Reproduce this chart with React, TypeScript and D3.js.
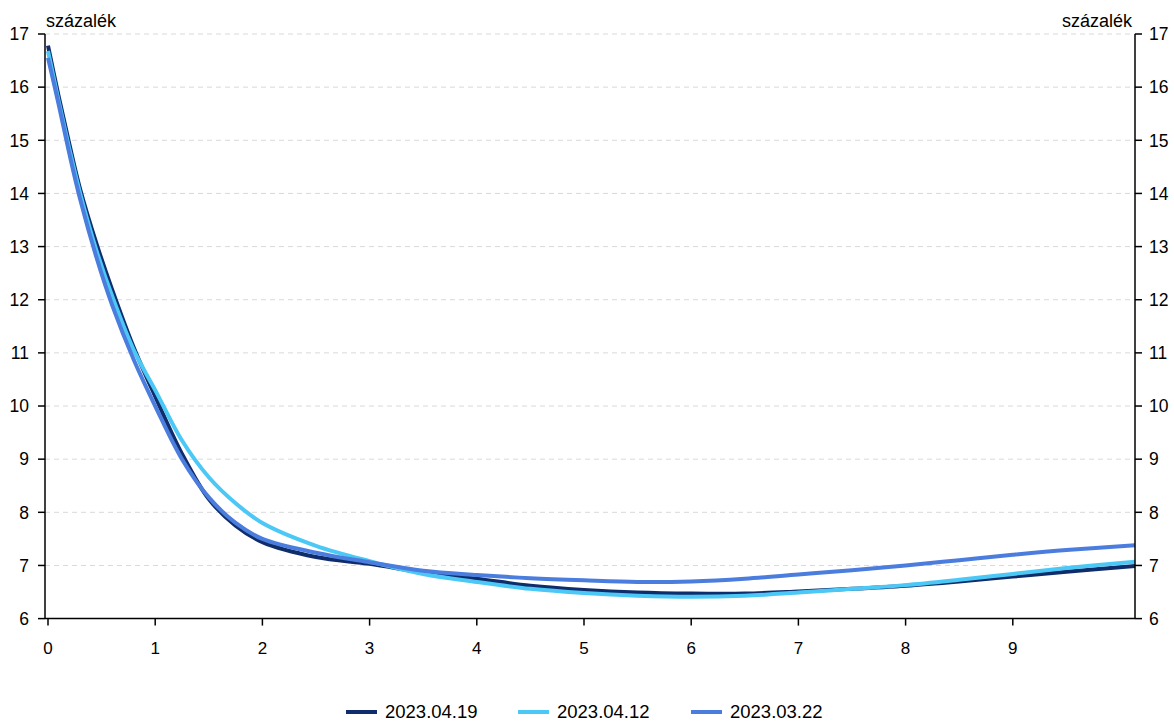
import React from "react";
import * as d3 from "d3";

const maturities = [0, 0.1, 0.2, 0.3, 0.45, 0.6, 0.8, 1, 1.25, 1.5, 1.75, 2, 2.5, 3, 3.5, 4, 4.5, 5, 5.5, 6, 6.5, 7, 7.5, 8, 8.5, 9, 9.5, 10.14];

const s20230419 = [16.78, 15.82, 14.92, 14.08, 13.07, 12.18, 11.1, 10.18, 9.1, 8.25, 7.75, 7.44, 7.16, 7.03, 6.87, 6.75, 6.62, 6.54, 6.49, 6.47, 6.47, 6.51, 6.56, 6.62, 6.7, 6.79, 6.88, 6.99];
const s20230412 = [16.68, 15.73, 14.83, 14.0, 12.94, 12.06, 11.05, 10.3, 9.35, 8.66, 8.17, 7.8, 7.37, 7.08, 6.84, 6.69, 6.56, 6.48, 6.43, 6.41, 6.43, 6.49, 6.56, 6.63, 6.73, 6.84, 6.95, 7.07];
const s20230322 = [16.55, 15.67, 14.74, 13.89, 12.81, 11.89, 10.87, 10.0, 9.0, 8.28, 7.8, 7.5, 7.24, 7.06, 6.9, 6.82, 6.76, 6.72, 6.69, 6.7, 6.75, 6.83, 6.91, 7.0, 7.1, 7.2, 7.29, 7.38];

const seriesNames = ["2023.04.19", "2023.04.12", "2023.03.22"];
const seriesColors = ["#0f2d6b", "#4cc8f6", "#4a7ddd"];
const seriesData = [s20230419, s20230412, s20230322];

const xTicks = [0, 1, 2, 3, 4, 5, 6, 7, 8, 9];
const yTicks = [6, 7, 8, 9, 10, 11, 12, 13, 14, 15, 16, 17];
const unitLabel = "százalék";

const FONT = "'Liberation Sans', Arial, sans-serif";

export default function App() {
  const W = 1174, H = 721;
  const left = 45, right = 1135, top = 34, bottom = 618.6;
  const x = d3.scaleLinear().domain([-0.028, 10.14]).range([left, right]);
  const y = d3.scaleLinear().domain([6, 17]).range([bottom, top]);
  const line = d3
    .line<number>()
    .x((_, i) => x(maturities[i]))
    .y((d) => y(d))
    .curve(d3.curveCatmullRom.alpha(0.5));

  const legendItems = [
    { lx: 346, tx: 385 },
    { lx: 518, tx: 557 },
    { lx: 691, tx: 730 },
  ];

  return (
    <svg width={W} height={H} style={{ position: "absolute", left: 0, top: 0, background: "#fff" }} fontFamily={FONT}>
      <rect x={0} y={0} width={W} height={H} fill="#fff" />
      {yTicks.filter((t) => t > 6).map((t) => (
        <line key={"g" + t} x1={left} x2={right} y1={y(t)} y2={y(t)} stroke="#d9d9d9" strokeWidth={1} strokeDasharray="5,4" />
      ))}
      {seriesData.map((s, i) => (
        <path key={seriesNames[i]} d={line(s) || ""} fill="none" stroke={seriesColors[i]} strokeWidth={4} strokeLinejoin="round" />
      ))}
      <line x1={left} x2={left} y1={top} y2={bottom} stroke="#000" strokeWidth={1.5} />
      <line x1={right} x2={right} y1={top} y2={bottom} stroke="#000" strokeWidth={1.5} />
      <line x1={left} x2={right} y1={bottom} y2={bottom} stroke="#000" strokeWidth={1.5} />
      {yTicks.map((t) => (
        <g key={"yt" + t}>
          <line x1={left - 7} x2={left} y1={y(t)} y2={y(t)} stroke="#000" strokeWidth={1.5} />
          <line x1={right} x2={right + 7} y1={y(t)} y2={y(t)} stroke="#000" strokeWidth={1.5} />
          <text x={29} y={y(t) + 6.3} textAnchor="end" fontSize={17.5} fill="#000">{t}</text>
          <text x={1149} y={y(t) + 6.3} textAnchor="start" fontSize={17.5} fill="#000">{t}</text>
        </g>
      ))}
      {xTicks.map((t) => (
        <g key={"xt" + t}>
          <line x1={x(t)} x2={x(t)} y1={bottom} y2={bottom + 7} stroke="#000" strokeWidth={1.5} />
          <text x={x(t)} y={654} textAnchor="middle" fontSize={17} fill="#000">{t}</text>
        </g>
      ))}
      <text x={46} y={27} fontSize={18} fill="#000">{unitLabel}</text>
      <text x={1132} y={27} fontSize={18} textAnchor="end" fill="#000">{unitLabel}</text>
      {seriesNames.map((n, i) => (
        <g key={"lg" + n}>
          <line x1={legendItems[i].lx} x2={legendItems[i].lx + 31} y1={712} y2={712} stroke={seriesColors[i]} strokeWidth={4} />
          <text x={legendItems[i].tx} y={717.5} fontSize={18.5} fill="#000">{n}</text>
        </g>
      ))}
    </svg>
  );
}
